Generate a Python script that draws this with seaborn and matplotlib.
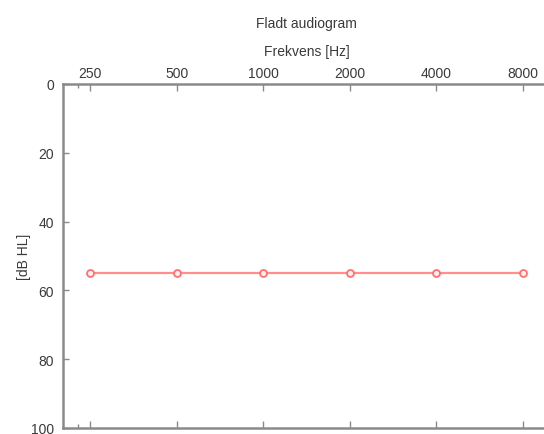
import matplotlib
matplotlib.use("Agg")
import matplotlib.pyplot as plt
import matplotlib.ticker as mticker
import pandas as pd
import seaborn as sns

# Audiogram data: hearing threshold per test frequency
frequencies = [250, 500, 1000, 2000, 4000, 8000]
thresholds_db = [55, 55, 55, 55, 55, 55]
freq_tick_labels = ["250", "500", "1000", "2000", "4000", "8000"]
db_ticks = [0, 20, 40, 60, 80, 100]

sns.set_theme(style="white")
plt.rcParams["font.family"] = ["Liberation Sans", "DejaVu Sans"]

df = pd.DataFrame({"freq": frequencies, "db": thresholds_db})

fig = plt.figure(figsize=(5.44, 4.35), dpi=100)
ax = fig.add_axes([0.115, 0.0138, 0.897, 0.7908])

sns.lineplot(
    data=df, x="freq", y="db", ax=ax,
    color="#ff8f8f", linewidth=1.6,
    marker="o", markersize=5, markerfacecolor="#fff0f0",
    markeredgecolor="#ff7070", markeredgewidth=1.3,
)

ax.set_xscale("log", base=2)
ax.set_xlim(200, 10000)
ax.set_ylim(100, 0)
ax.xaxis.set_major_locator(mticker.FixedLocator(frequencies))
ax.xaxis.set_major_formatter(mticker.FixedFormatter(freq_tick_labels))
ax.xaxis.set_minor_locator(mticker.FixedLocator([227]))
ax.set_yticks(db_ticks)
ax.set_yticklabels([str(v) for v in db_ticks])

text_color = "#3a3a3a"
spine_color = "#8a8a8a"

ax.xaxis.tick_top()
ax.xaxis.set_label_position("top")
ax.tick_params(axis="both", which="both", direction="in", colors=spine_color,
               labelcolor=text_color, labelsize=10, width=1.0)
ax.tick_params(axis="x", which="major", length=5, pad=3, top=True, bottom=True)
ax.tick_params(axis="x", which="minor", length=3, top=True, bottom=True)
ax.tick_params(axis="y", which="major", length=4, pad=6, left=True, right=True)

for side in ["top", "bottom", "left", "right"]:
    ax.spines[side].set_color(spine_color)
    ax.spines[side].set_linewidth(1.8)

ax.set_xlabel("Frekvens [Hz]", fontsize=10, color=text_color, labelpad=8)
ax.set_ylabel("[dB HL]", fontsize=10, color=text_color, labelpad=0)
ax.set_title("Fladt audiogram", fontsize=10, color=text_color, pad=12)

fig.savefig("out.png", dpi=100)
